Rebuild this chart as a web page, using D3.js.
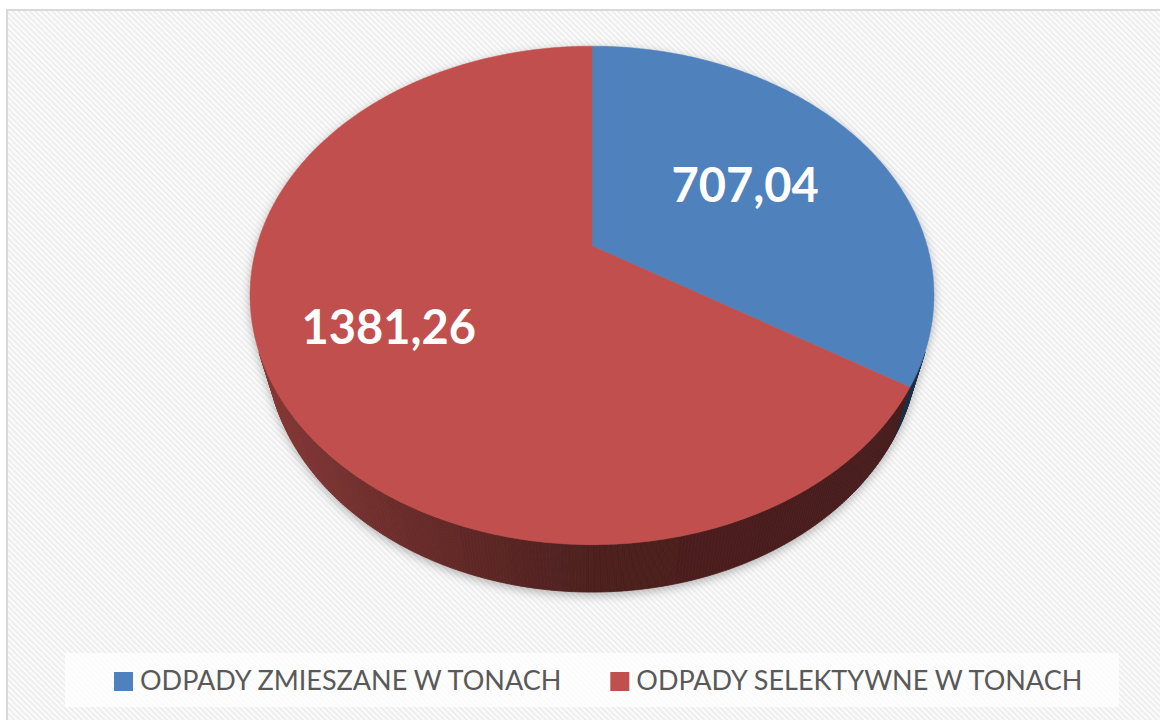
<!DOCTYPE html>
<html>
<head>
<meta charset="utf-8">
<style>
  body { margin: 0; background: #fff; }
  svg { display: block; }
  text { font-family: Lato, "Open Sans", sans-serif; }
</style>
<script src="https://cdnjs.cloudflare.com/ajax/libs/d3/7.8.5/d3.min.js"></script>
</head>
<body>
<div id="chart"></div>
<script>
// data
const categories = ["ODPADY ZMIESZANE W TONACH", "ODPADY SELEKTYWNE W TONACH"];
const values = [707.04, 1381.26];
const valueLabels = ["707,04", "1381,26"];
const colors = ["#4F81BD", "#C0504D"];

const width = 1160, height = 720;

const svg = d3.select("#chart").append("svg")
    .attr("width", width)
    .attr("height", height);

const defs = svg.append("defs");

// faint diagonal hatching of the chart area
const pat = defs.append("pattern")
    .attr("id", "hatch")
    .attr("patternUnits", "userSpaceOnUse")
    .attr("width", 4).attr("height", 4)
    .attr("patternTransform", "rotate(-45)");
pat.append("rect").attr("width", 4).attr("height", 4).attr("fill", "#fbfbfb");
pat.append("rect").attr("width", 2).attr("height", 4).attr("fill", "#eeeeee");

const shadow = defs.append("filter")
    .attr("id", "shadow")
    .attr("x", "-10%").attr("y", "-10%")
    .attr("width", "120%").attr("height", "125%");
shadow.append("feDropShadow")
    .attr("dx", 0).attr("dy", 3)
    .attr("stdDeviation", 5)
    .attr("flood-color", "#000")
    .attr("flood-opacity", 0.28);

svg.append("rect")
    .attr("x", 7).attr("y", 10)
    .attr("width", width + 20).attr("height", height + 20)
    .attr("fill", "url(#hatch)")
    .attr("stroke", "#d9d9d9")
    .attr("stroke-width", 2);

// simple perspective view of a tilted disc
const cx = 592, cy = 246;
const F = 335.2;              // scale, pixels per radius
const tilt = 45.6 * Math.PI / 180;
const sn = Math.sin(tilt), cs = Math.cos(tilt);
const D = 3.53;               // camera distance in radii
const depth = 0.231;          // thickness of the disc

function proj(t, Y, r) {
  r = r === undefined ? 1 : r;
  const X = r * Math.sin(t), Z = -r * Math.cos(t);
  const w = Y * sn + Z * cs;
  const s = F / (1 - w / D);
  return [cx + X * s, cy + (Z * sn - Y * cs) * s];
}

const pie = d3.pie().sort(null).value(d => d)
    .startAngle(0).endAngle(2 * Math.PI);
const arcs = pie(values);

const line = d3.line().curve(d3.curveLinearClosed);
const step = Math.PI / 360;

// outer wall faces the camera where cos(t) < -1/(D*cos(tilt))
const visCos = -1 / (D * cs);

function shade(col, t) {
  const k = 0.4 + 0.33 * Math.max(0, -Math.sin(t)) - 0.03 * Math.max(0, Math.sin(t));
  const c = d3.rgb(col);
  return d3.rgb(c.r * k, c.g * k, c.b * k).toString();
}

const g = svg.append("g").attr("filter", "url(#shadow)");

// side walls
arcs.forEach((a, i) => {
  for (let t = a.startAngle; t < a.endAngle; t += step) {
    const t2 = Math.min(t + step, a.endAngle);
    if (Math.cos((t + t2) / 2) >= visCos) continue;
    const col = shade(colors[i], (t + t2) / 2);
    g.append("path")
      .attr("d", line([proj(t, 0), proj(t2, 0), proj(t2, -depth), proj(t, -depth)]))
      .attr("fill", col)
      .attr("stroke", col)
      .attr("stroke-width", 0.8);
  }
});

// top faces
arcs.forEach((a, i) => {
  const pts = [proj(0, 0, 0)];
  for (let t = a.startAngle; t < a.endAngle; t += step) pts.push(proj(t, 0));
  pts.push(proj(a.endAngle, 0));
  g.append("path")
    .attr("d", line(pts))
    .attr("fill", colors[i])
    .attr("stroke", colors[i])
    .attr("stroke-width", 0.5);
});

// value labels
const labelR = [0.55, 0.65];
const labelSize = 47;
svg.append("g").selectAll("text")
  .data(arcs)
  .join("text")
    .attr("x", (d, i) => proj((d.startAngle + d.endAngle) / 2, 0, labelR[i])[0])
    .attr("y", (d, i) => proj((d.startAngle + d.endAngle) / 2, 0, labelR[i])[1] + labelSize * 0.36)
    .attr("text-anchor", "middle")
    .attr("fill", "#fff")
    .style("font-weight", 700)
    .style("font-size", labelSize + "px")
    .text((d, i) => valueLabels[i]);

// legend
svg.append("rect")
    .attr("x", 65).attr("y", 653)
    .attr("width", 1054).attr("height", 54)
    .attr("fill", "#fff")
    .attr("fill-opacity", 0.75);

const legend = svg.append("g");
let lx = 114;
categories.forEach((c, i) => {
  legend.append("rect")
    .attr("x", lx).attr("y", 672)
    .attr("width", 19).attr("height", 19)
    .attr("fill", colors[i]);
  const t = legend.append("text")
    .attr("x", lx + 26).attr("y", 690)
    .attr("fill", "#595959")
    .style("font-size", "27px")
    .text(c);
  lx += 26 + t.node().getComputedTextLength() + 49;
});
</script>
</body>
</html>
